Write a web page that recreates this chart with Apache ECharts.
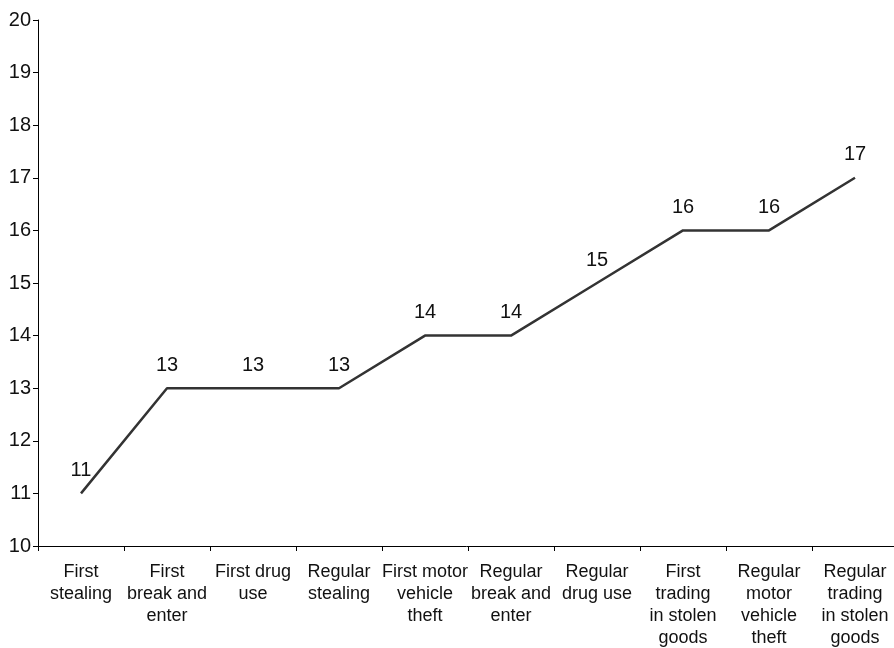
<!DOCTYPE html>
<html><head><meta charset="utf-8">
<script src="https://cdn.jsdelivr.net/npm/echarts@6/dist/echarts.min.js"></script>
<style>html,body{margin:0;padding:0;background:#fff}#c{width:894px;height:648px}</style>
</head><body><div id="c"></div>
<script>
const categories = ["First\nstealing","First\nbreak and\nenter","First drug\nuse","Regular\nstealing","First motor\nvehicle\ntheft","Regular\nbreak and\nenter","Regular\ndrug use","First\ntrading\nin stolen\ngoods","Regular\nmotor\nvehicle\ntheft","Regular\ntrading\nin stolen\ngoods"];
const ages = [11,13,13,13,14,14,15,16,16,17];
const yTicks = {min:10, max:20, interval:1};

const chart = echarts.init(document.getElementById('c'));
chart.setOption({
  animation:false,
  backgroundColor:'#fff',
  textStyle:{fontFamily:'"Liberation Sans", Arial, sans-serif'},
  grid:{left:38, right:-4, top:20, bottom:102, containLabel:false, outerBoundsMode:'none'},
  xAxis:{type:'category', data:categories, boundaryGap:true,
    axisLine:{lineStyle:{color:'#000', width:1}},
    axisTick:{show:true, length:5, lineStyle:{color:'#000'}, alignWithLabel:false},
    axisLabel:{color:'#111', fontSize:18, lineHeight:22, margin:15, interval:0}},
  yAxis:{type:'value', min:yTicks.min, max:yTicks.max, interval:yTicks.interval,
    splitLine:{show:false},
    axisLine:{show:true, lineStyle:{color:'#000', width:1}},
    axisTick:{show:true, length:5, lineStyle:{color:'#000'}},
    axisLabel:{color:'#111', fontSize:20, margin:7}},
  series:[{type:'line', data:ages, symbol:'circle', symbolSize:2, showSymbol:true,
    itemStyle:{color:'rgba(0,0,0,0)', borderWidth:0},
    lineStyle:{color:'#333', width:2.5},
    label:{show:true, position:'top', distance:12, color:'#111', fontSize:20}},
  ]
});
</script></body></html>
